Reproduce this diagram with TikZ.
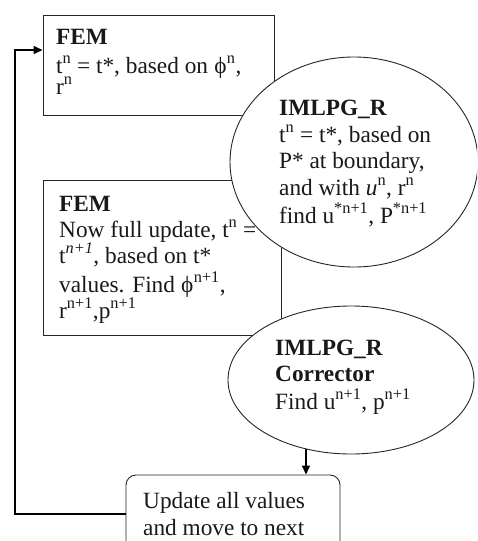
\documentclass[tikz,border=0pt]{standalone}
\usepackage{fontspec}
\setmainfont{Liberation Serif}
\usetikzlibrary{shapes.geometric,arrows.meta}
\newcommand{\phisym}{\makebox[13pt][c]{\symbol{"03D5}}}
\begin{document}
\begin{tikzpicture}[x=1pt,y=-1pt,
  shape line/.style={draw=black!85,line width=0.9pt,fill=white,inner sep=0pt},
  rbox/.style={shape line,rectangle},
  ebox/.style={shape line,ellipse},
  txt/.style={anchor=base west,inner sep=0pt,font=\fontsize{23.3}{26}\selectfont,text=black!90},
  arr/.style={-{Triangle[length=9pt,width=8pt]},line width=1.3pt}]
\clip (0,0) rectangle (477,541);
\fill[white] (0,0) rectangle (477,541);
% shapes
\node[rbox,minimum width=231pt,minimum height=100pt] (box1) at (158.5,65) {};
\node[rbox,minimum width=238pt,minimum height=155pt] (box2) at (162,257.5) {};
\node[rbox,rounded corners=10pt,minimum width=214pt,minimum height=78pt] (bot) at (233,514) {};
% box texts
\node[txt] (b1a) at (56,44) {\textbf{FEM}};
\node[txt] (b1b) at (56,73) {t\textsuperscript{n} = t*, based on \phisym\textsuperscript{n},};
\node[txt] (b1c) at (56,94) {r\textsuperscript{n}};
\node[txt] (b2a) at (59,211) {\textbf{FEM}};
\node[txt] (b2b) at (59,237) {Now full update, t\textsuperscript{n} =};
\node[txt] (b2c) at (59,263) {t\textsuperscript{\itshape n+1}, based on t*};
\node[txt] (b2d) at (59,292) {values. Find\ \phisym\textsuperscript{n+1},};
\node[txt] (b2e) at (59,318) {r\textsuperscript{n+1},p\textsuperscript{n+1}};
% ellipses
\node[ebox,minimum width=248pt,minimum height=210pt] (e1) at (354,162) {};
\node[ebox,minimum width=246pt,minimum height=148pt] (e2) at (351,380) {};
\node[txt] (e1a) at (279,115) {\textbf{IMLPG\_R}};
\node[txt] (e1b) at (279,142) {t\textsuperscript{n} = t*, based on};
\node[txt] (e1c) at (279,168) {P* at boundary,};
\node[txt] (e1d) at (279,195) {and with \textit{u}\textsuperscript{n}, r\textsuperscript{n}};
\node[txt] (e1e) at (279,223) {find u\textsuperscript{*n+1}, P\textsuperscript{*n+1}};
\node[txt] (e2a) at (275,355) {\textbf{IMLPG\_R}};
\node[txt] (e2b) at (275,381) {\textbf{Corrector}};
\node[txt] (e2c) at (275,409) {Find u\textsuperscript{n+1}, p\textsuperscript{n+1}};
\node[txt] (bta) at (143,508) {Update all values};
\node[txt] (btb) at (143,535) {and move to next};
% connectors
\coordinate (loop) at (15,514);
\draw[arr] (e2.237) -- (e2.237 |- bot.north);
\draw[arr] (bot.west) -- (loop) |- ([yshift=15pt]box1.west);
\end{tikzpicture}
\end{document}
